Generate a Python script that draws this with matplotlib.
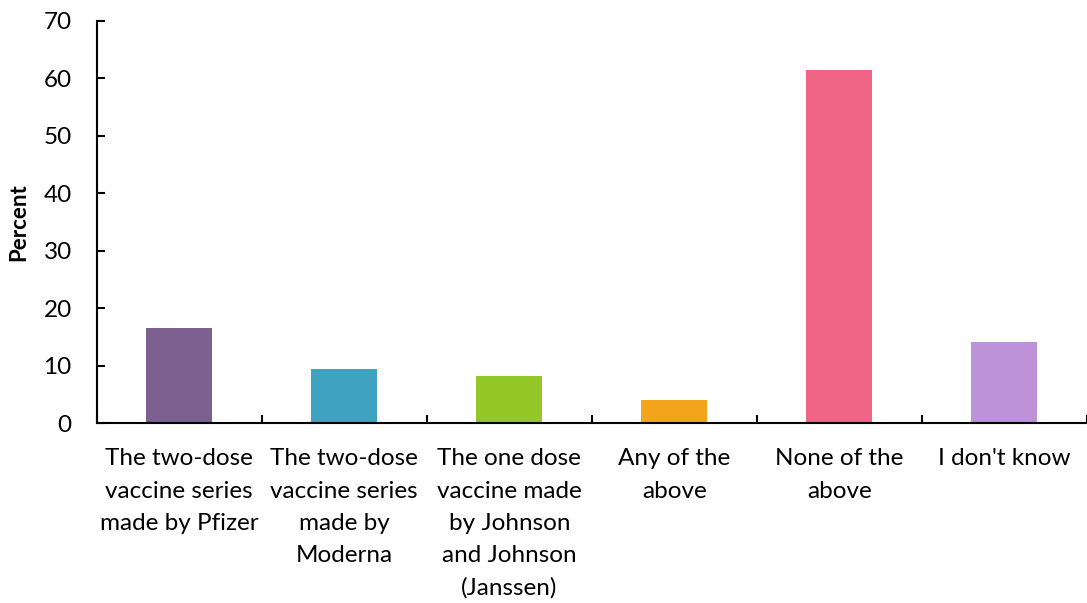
import numpy as np
import matplotlib
matplotlib.use('Agg')
import matplotlib.pyplot as plt

categories = ['The two-dose\nvaccine series\nmade by Pfizer',
              'The two-dose\nvaccine series\nmade by\nModerna',
              'The one dose\nvaccine made\nby Johnson\nand Johnson\n(Janssen)',
              'Any of the\nabove',
              'None of the\nabove',
              "I don't know"]
percent = [16.5, 9.45, 8.2, 4.05, 61.4, 14.1]
colors = ['#7B6090', '#3FA2C1', '#94C828', '#F4A41A', '#F06485', '#BE92D9']

FONT_SIZE = 17.5

plt.rcParams['font.family'] = ['Lato', 'DejaVu Sans']

fig = plt.figure(figsize=(10.87, 6.03), dpi=100)
ax = fig.add_axes([0.089, 0.298, 0.911, 0.668])

x = np.arange(len(percent))
ax.bar(x, percent, width=0.4, color=colors)

ax.set_xlim(-0.5, len(percent) - 0.5)
ax.set_ylim(0, 70)
ax.set_yticks(np.arange(0, 71, 10))

# category boundary ticks, labels placed in between
ax.set_xticks(np.arange(-0.5, len(percent), 1.0))
ax.set_xticklabels([])
ax.set_xticks(x, minor=True)
ax.set_xticklabels(categories, minor=True, fontsize=FONT_SIZE, linespacing=1.66)
ax.tick_params(axis='x', which='minor', length=0, pad=18)
ax.tick_params(axis='x', which='major', direction='in', length=6, width=1.5)
ax.tick_params(axis='y', direction='in', length=6, width=1.5, labelsize=FONT_SIZE, pad=18)

for side in ['top', 'right']:
    ax.spines[side].set_visible(False)
for side in ['left', 'bottom']:
    ax.spines[side].set_linewidth(1.5)

ax.set_ylabel('Percent', fontsize=16, fontweight='bold', labelpad=10)

fig.savefig('out.png', dpi=100)
plt.close()
